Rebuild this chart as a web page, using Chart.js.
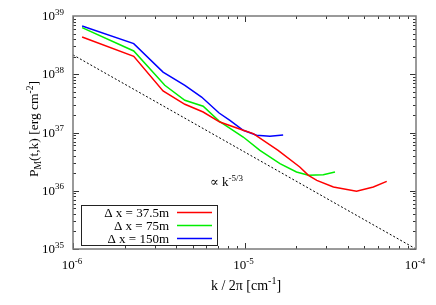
<!DOCTYPE html>
<html>
<head>
<meta charset="utf-8">
<script src="https://cdn.jsdelivr.net/npm/chart.js@4"></script>
<style>
  html, body { margin: 0; padding: 0; background: #fff; }
  #wrap { width: 436px; height: 305px; }
</style>
</head>
<body>
<div id="wrap"><canvas id="spectrum"></canvas></div>
<script>
// data (k / 2pi in cm^-1, P_M in erg cm^-2)
const redK   = [1.13e-6, 2.26e-6, 3.35e-6, 4.49e-6, 5.74e-6, 7.18e-6, 9.83e-6, 1.125e-5, 1.57e-5, 2.1e-5, 2.36e-5, 2.64e-5, 3.3e-5, 4.5e-5, 5.64e-5, 6.75e-5];
const redP   = [4.36e38, 2.03e38, 5.16e37, 3.05e37, 2.25e37, 1.51e37, 1.09e37, 9.57e36, 4.94e36, 2.56e36, 1.84e36, 1.51e36, 1.16e36, 9.8e35, 1.16e36, 1.45e36];
const greenK = [1.13e-6, 2.26e-6, 3.43e-6, 4.49e-6, 5.74e-6, 7.11e-6, 9.83e-6, 1.23e-5, 1.61e-5, 2.01e-5, 2.36e-5, 2.88e-5, 3.37e-5];
const greenP = [6.31e38, 2.51e38, 6.46e37, 3.57e37, 2.82e37, 1.57e37, 8.37e36, 4.94e36, 2.93e36, 2.1e36, 1.84e36, 1.89e36, 2.1e36];
const blueK  = [1.13e-6, 2.26e-6, 3.35e-6, 4.49e-6, 5.62e-6, 7.11e-6, 8.22e-6, 9.83e-6, 1.176e-5, 1.407e-5, 1.68e-5];
const blueP  = [6.73e38, 3.36e38, 1.09e38, 6.46e37, 4.06e37, 2.16e37, 1.62e37, 1.09e37, 8.96e36, 8.61e36, 9.06e36];
// k^-5/3 reference line end points
const refK   = [1e-6, 1e-4];
const refP   = [2.15e38, 1e35];

const seriesNames  = ['\u0394 x = 37.5m', '\u0394 x = 75m', '\u0394 x = 150m'];
const seriesColors = ['#ff0000', '#00ee00', '#0000ff'];
const xTickExps = [-6, -5, -4];
const yTickExps = [35, 36, 37, 38, 39];

function toPoints(ks, ps) {
    return ks.map((k, i) => ({ x: k, y: ps[i] }));
}

const FONT = '"Liberation Serif", "DejaVu Serif", serif';

// text with a superscript part, anchored by align
function drawSup(ctx, base, sup, x, y, align, size) {
    ctx.font = size + 'px ' + FONT;
    const wb = ctx.measureText(base).width;
    ctx.font = Math.round(size * 0.72) + 'px ' + FONT;
    const ws = ctx.measureText(sup).width;
    const total = wb + ws;
    let x0 = x;
    if (align === 'center') x0 = x - total / 2;
    if (align === 'right') x0 = x - total;
    ctx.textAlign = 'left';
    ctx.textBaseline = 'alphabetic';
    ctx.font = size + 'px ' + FONT;
    ctx.fillText(base, x0, y);
    ctx.font = Math.round(size * 0.72) + 'px ' + FONT;
    ctx.fillText(sup, x0 + wb, y - size * 0.42);
}

const gnuplotLook = {
    id: 'gnuplotLook',
    afterDraw(chart) {
        const ctx = chart.ctx;
        const a = chart.chartArea;
        const xs = chart.scales.x, ys = chart.scales.y;
        ctx.save();

        // ticks on all four sides, pointing inward
        ctx.strokeStyle = '#333';
        ctx.lineWidth = 1;
        ctx.beginPath();
        for (let e = -6; e < -4; e++) {
            for (let m = 1; m <= 9; m++) {
                const px = Math.round(xs.getPixelForValue(m * Math.pow(10, e))) + 0.5;
                const len = m === 1 ? 6 : 3;
                ctx.moveTo(px, a.bottom); ctx.lineTo(px, a.bottom - len);
                ctx.moveTo(px, a.top); ctx.lineTo(px, a.top + len);
            }
        }
        for (let e = 35; e < 39; e++) {
            for (let m = 1; m <= 9; m++) {
                const py = Math.round(ys.getPixelForValue(m * Math.pow(10, e))) + 0.5;
                const len = m === 1 ? 6 : 3;
                ctx.moveTo(a.left, py); ctx.lineTo(a.left + len, py);
                ctx.moveTo(a.right, py); ctx.lineTo(a.right - len, py);
            }
        }
        ctx.stroke();

        // frame
        ctx.strokeStyle = '#7a7a7a';
        ctx.lineWidth = 1.5;
        ctx.strokeRect(a.left, a.top, a.right - a.left, a.bottom - a.top);

        // tick labels
        ctx.fillStyle = '#000';
        yTickExps.forEach(e => {
            const py = ys.getPixelForValue(Math.pow(10, e));
            drawSup(ctx, '10', String(e), a.left - 9, py + 4, 'right', 13);
        });
        xTickExps.forEach(e => {
            const px = xs.getPixelForValue(Math.pow(10, e));
            drawSup(ctx, '10', String(e), px - 1, a.bottom + 20, 'center', 13);
        });

        // x axis title: k / 2pi [cm^-1]
        ctx.font = '14px ' + FONT;
        const t1 = 'k / 2\u03c0 [cm';
        const w1 = ctx.measureText(t1).width;
        ctx.font = '10px ' + FONT;
        const w2 = ctx.measureText('-1').width;
        ctx.font = '14px ' + FONT;
        const w3 = ctx.measureText(']').width;
        let x0 = 246 - (w1 + w2 + w3) / 2;
        const yb = 290;
        ctx.textAlign = 'left';
        ctx.fillText(t1, x0, yb);
        ctx.font = '10px ' + FONT;
        ctx.fillText('-1', x0 + w1, yb - 6);
        ctx.font = '14px ' + FONT;
        ctx.fillText(']', x0 + w1 + w2, yb);

        // y axis title: P_M(t,k) [erg cm^-2], rotated
        ctx.save();
        ctx.translate(38, 129);
        ctx.rotate(-Math.PI / 2);
        const parts = [
            { t: 'P', s: 13.5, dy: 0 },
            { t: 'M', s: 9.5, dy: 3 },
            { t: '(t,k) [erg cm', s: 13.5, dy: 0 },
            { t: '-2', s: 9.5, dy: -5.5 },
            { t: ']', s: 13.5, dy: 0 }
        ];
        let tw = 0;
        parts.forEach(p => { ctx.font = p.s + 'px ' + FONT; p.w = ctx.measureText(p.t).width; tw += p.w; });
        let cx = -tw / 2;
        parts.forEach(p => {
            ctx.font = p.s + 'px ' + FONT;
            ctx.fillText(p.t, cx, p.dy);
            cx += p.w;
        });
        ctx.restore();

        // slope annotation
        drawSup(ctx, '\u221d k', '-5/3', 210, 186, 'left', 13);

        // legend box
        ctx.fillStyle = '#fff';
        ctx.fillRect(81, 205, 137, 41);
        ctx.strokeStyle = '#222';
        ctx.lineWidth = 1;
        ctx.strokeRect(81.5, 205.5, 136, 40);
        ctx.font = '13px ' + FONT;
        ctx.textAlign = 'right';
        ctx.textBaseline = 'alphabetic';
        seriesNames.forEach((name, i) => {
            const ry = 212.5 + i * 13;
            ctx.fillStyle = '#000';
            ctx.fillText(name, 169, ry + 4.5);
            ctx.strokeStyle = seriesColors[i];
            ctx.lineWidth = 1.5;
            ctx.beginPath();
            ctx.moveTo(177, ry);
            ctx.lineTo(212, ry);
            ctx.stroke();
        });

        ctx.restore();
    }
};

new Chart(document.getElementById('spectrum'), {
    type: 'scatter',
    data: {
        datasets: [
            { label: seriesNames[0], data: toPoints(redK, redP), borderColor: seriesColors[0] },
            { label: seriesNames[1], data: toPoints(greenK, greenP), borderColor: seriesColors[1] },
            { label: seriesNames[2], data: toPoints(blueK, blueP), borderColor: seriesColors[2] },
            { label: 'k^-5/3', data: toPoints(refK, refP), borderColor: '#000', borderWidth: 1, borderDash: [2, 2] }
        ]
    },
    options: {
        responsive: true,
        maintainAspectRatio: false,
        animation: false,
        showLine: true,
        elements: {
            point: { radius: 0, hoverRadius: 0 },
            line: { borderWidth: 1.5, tension: 0, fill: false }
        },
        layout: { padding: { top: 16, right: 20, left: 0, bottom: 0 } },
        plugins: {
            legend: { display: false },
            tooltip: { enabled: false }
        },
        scales: {
            x: {
                type: 'logarithmic',
                min: 1e-6,
                max: 1e-4,
                ticks: { display: false },
                grid: { display: false },
                border: { display: false },
                afterFit: s => { s.height = 56; }
            },
            y: {
                type: 'logarithmic',
                min: 1e35,
                max: 1e39,
                ticks: { display: false },
                grid: { display: false },
                border: { display: false },
                afterFit: s => { s.width = 73; }
            }
        }
    },
    plugins: [gnuplotLook]
});
</script>
</body>
</html>
